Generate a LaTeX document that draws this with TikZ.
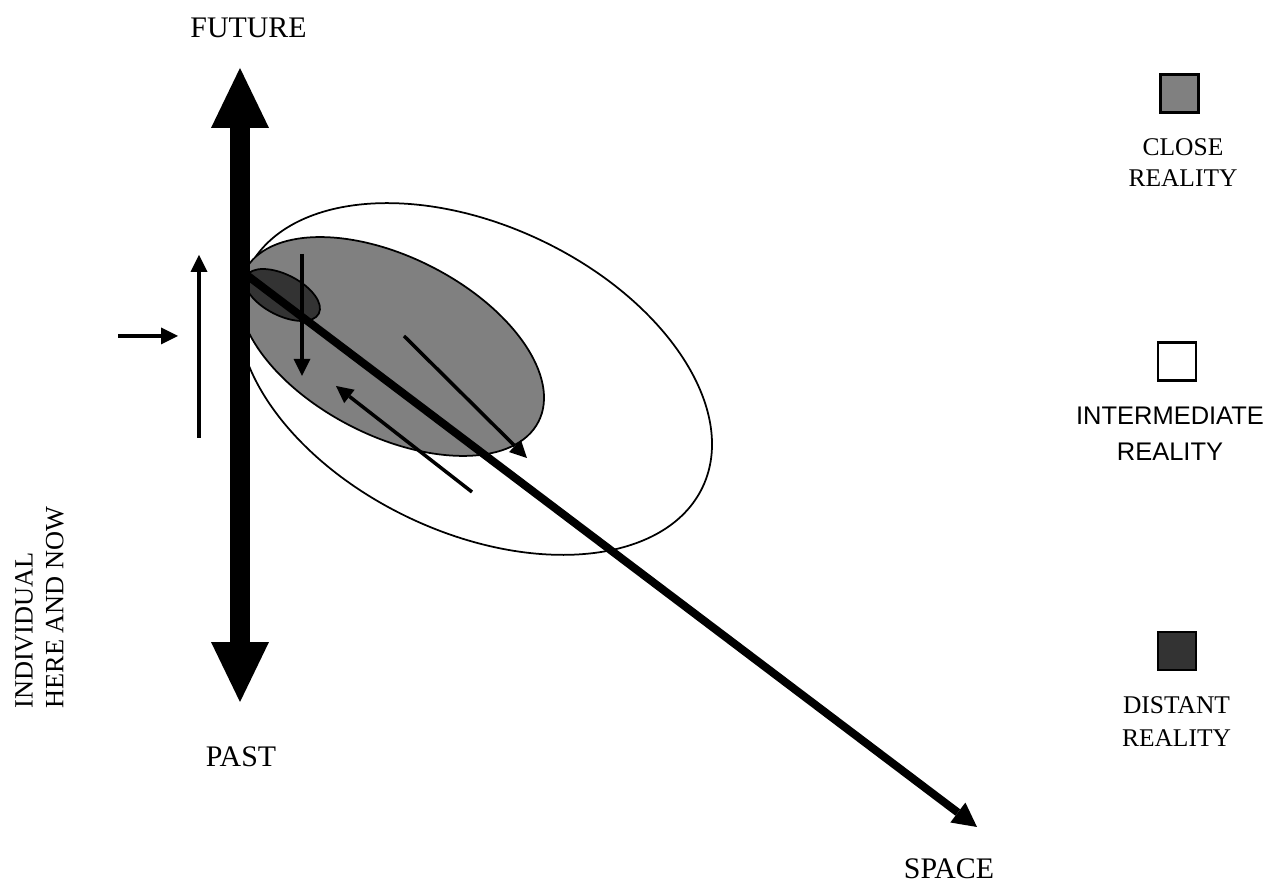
\documentclass[tikz,border=0pt]{standalone}
\usepackage{fontspec}
\setmainfont{Liberation Serif}
\newfontfamily\arialfont{Liberation Sans}
\usetikzlibrary{arrows.meta}
\begin{document}
\begin{tikzpicture}[
			x=0.02cm, y=-0.02cm,
			axlbl/.style={font=\fontsize{17}{20}\selectfont, inner sep=0pt},
			lgd/.style={font=\fontsize{14.5}{17.6}\selectfont, align=center, inner sep=0pt},
			sq/.style={draw, line width=0.045cm, minimum size=0.76cm, inner sep=0pt},
			zone/.style={draw, line width=0.035cm},
			thin arrow/.style={line width=0.07cm, -{Triangle[length=0.34cm, width=0.34cm, line width=0pt]}},
			bigtip/.tip={Triangle[length=1.2cm, width=1.16cm, line width=0pt]}
			]
			\useasboundingbox (0,0) rectangle (1272,884);
			% --- zones of reality ---
			\draw[zone, fill=white, rotate around={-25.4:(475,379)}] (475,379) ellipse [x radius=252, y radius=153.6];
			\draw[zone, fill=black!50, rotate around={-27.1:(391.5,346.5)}] (391.5,346.5) ellipse [x radius=165.1, y radius=89.3];
			\draw[zone, fill=black!80, rotate around={-27.1:(282.5,295)}] (282.5,295) ellipse [x radius=40.8, y radius=20.4];
			% --- time and space axes ---
			\coordinate (fut) at (240,68);
			\coordinate (pst) at (240,702);
			\coordinate (org) at (240,270);
			\coordinate (spc) at (977,827);
			\draw[line width=0.4cm, {bigtip}-{bigtip}] (pst) -- (fut);
			\draw[line width=0.16cm, -{Triangle[length=0.48cm, width=0.5cm, line width=0pt]}] (org) -- (spc);
			\node[axlbl] (future) at (248.5,28) {FUTURE};
			\node[axlbl] (past) at (241,757) {PAST};
			\node[axlbl] (space) at (949,869) {SPACE};
			\node[lgd, font=\fontsize{15}{17.6}\selectfont, rotate=90, anchor=west, align=left] (indiv) at (39.5,709) {INDIVIDUAL\\HERE AND NOW};
			% --- small arrows ---
			\coordinate (h0) at (118,336); \coordinate (h1) at (178,336);
			\coordinate (u0) at (199,438); \coordinate (u1) at (199,255);
			\coordinate (d0) at (302,254); \coordinate (d1) at (302,376);
			\coordinate (l0) at (472,492); \coordinate (l1) at (336,386);
			\coordinate (r0) at (404,336); \coordinate (r1) at (527,458);
			\draw[thin arrow] (h0) -- (h1);
			\draw[thin arrow] (u0) -- (u1);
			\draw[thin arrow] (d0) -- (d1);
			\draw[thin arrow] (l0) -- (l1);
			\draw[thin arrow] (r0) -- (r1);
			% --- legend ---
			\node[sq, fill=black!50] (sqclose) at (1179.5,93.5) {};
			\node[lgd] (close) at (1183,162.5) {CLOSE\\REALITY};
			\node[sq, fill=white] (sqmid) at (1177,361.5) {};
			\node[lgd, font=\arialfont\fontsize{14.5}{20.4}\selectfont] (mid) at (1170,434) {INTERMEDIATE\\REALITY};
			\node[sq, fill=black!80] (sqfar) at (1177,651) {};
			\node[lgd, font=\fontsize{14.5}{18.7}\selectfont] (far) at (1176.5,721.5) {DISTANT\\REALITY};
		\end{tikzpicture}
\end{document}
